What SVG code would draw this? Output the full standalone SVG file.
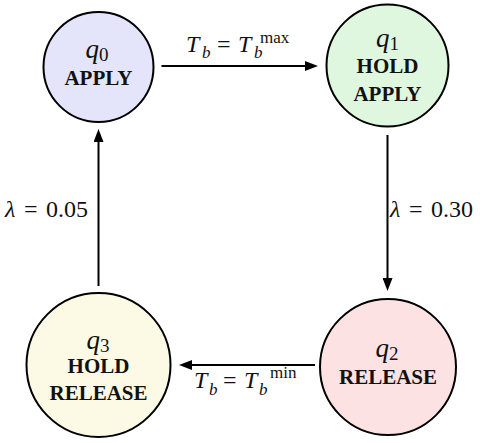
<svg xmlns="http://www.w3.org/2000/svg" width="485" height="443" viewBox="0 0 485 443">
<defs>
<marker id="arr" viewBox="0 -5 13 10" refX="0" refY="0" markerWidth="13" markerHeight="10" markerUnits="userSpaceOnUse" orient="auto">
<path d="M0,-5 L13,0 L0,5 z" fill="#000"/>
</marker>
</defs>
<style>
.st{stroke:#000;stroke-width:2}
.cn{stroke:#000;stroke-width:2;fill:none;marker-end:url(#arr)}
.m{font-family:"Liberation Serif","DejaVu Serif",serif;font-size:24px;fill:#111}
.i{font-style:italic}
.s{font-size:17px}
.q{font-family:"Liberation Serif","DejaVu Serif",serif;font-size:27px;font-style:italic;fill:#111;text-anchor:middle}
.qs{font-size:19px;font-style:normal}
.n{font-family:"Liberation Serif","DejaVu Serif",serif;font-size:21px;font-weight:bold;fill:#111;text-anchor:middle}
</style>
<rect width="485" height="443" fill="#fff"/>
<g id="q0">
<circle class="st" cx="98.5" cy="67" r="55" fill="#e4e4fb"/>
<text class="q" x="97" y="58">q<tspan class="qs" dy="3">0</tspan></text>
<text class="n" x="98.5" y="85">APPLY</text>
</g>
<g id="q1">
<circle class="st" cx="387.5" cy="65.5" r="61" fill="#dff7df"/>
<text class="q" x="387.5" y="47">q<tspan class="qs" dy="3">1</tspan></text>
<text class="n" x="387.5" y="73">HOLD</text>
<text class="n" x="387.5" y="101">APPLY</text>
</g>
<g id="q2">
<circle class="st" cx="388" cy="367" r="68" fill="#fce2e2"/>
<text class="q" x="387" y="357">q<tspan class="qs" dy="3">2</tspan></text>
<text class="n" x="388" y="384">RELEASE</text>
</g>
<g id="q3">
<circle class="st" cx="98.5" cy="365" r="72" fill="#fcfae4"/>
<text class="q" x="98" y="349">q<tspan class="qs" dy="3">3</tspan></text>
<text class="n" x="98.5" y="373">HOLD</text>
<text class="n" x="98.5" y="400">RELEASE</text>
</g>
<g id="connectors">
<line class="cn" x1="161.5" y1="66" x2="305" y2="66"/>
<line class="cn" x1="387.5" y1="135" x2="387.5" y2="278"/>
<line class="cn" x1="315" y1="365" x2="192" y2="365"/>
<line class="cn" x1="98.5" y1="286" x2="98.5" y2="142"/>
</g>
<g id="labels">
<text class="m"><tspan class="i" x="186" y="51.5">T</tspan><tspan class="i s" x="202" y="58">b</tspan><tspan x="217" y="51.5">=</tspan><tspan class="i" x="238" y="51.5">T</tspan><tspan class="i s" x="254" y="58">b</tspan><tspan class="s" x="260" y="43">max</tspan></text>
<text class="m"><tspan class="i" x="194" y="388">T</tspan><tspan class="i s" x="209" y="395">b</tspan><tspan x="223" y="388">=</tspan><tspan class="i" x="244" y="388">T</tspan><tspan class="i s" x="259" y="395">b</tspan><tspan class="s" x="270" y="378">min</tspan></text>
<text class="m"><tspan class="i" x="390" y="216.5">λ</tspan><tspan x="409" y="216.5">=</tspan><tspan x="431" y="216.5">0.30</tspan></text>
<text class="m"><tspan class="i" x="5" y="216.5">λ</tspan><tspan x="24" y="216.5">=</tspan><tspan x="46" y="216.5">0.05</tspan></text>
</g>
</svg>
